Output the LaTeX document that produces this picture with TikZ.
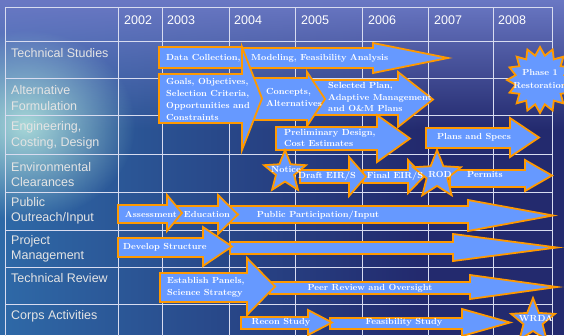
\documentclass[tikz,border=0pt]{standalone}
\usepackage{fontspec}
\newfontfamily\tabfont{Liberation Sans}
\usepackage{tikz}
\usetikzlibrary{shapes.geometric}
\usetikzlibrary{fadings}

\tikzfading[name=fadeRight, left color=transparent!0, right color=transparent!100]
\tikzfading[name=fadeDown, top color=transparent!0, bottom color=transparent!100]
\tikzfading[name=glowOut, inner color=transparent!0, outer color=transparent!100]

\definecolor{bgnavy}{HTML}{232A6E}
\definecolor{bgsea}{HTML}{2F6AA8}
\definecolor{bgsky}{HTML}{6A78C4}
\definecolor{bgglow}{HTML}{A8D8D8}
\definecolor{arrowfill}{HTML}{6699FF}
\definecolor{arroworange}{HTML}{FF9900}
\definecolor{gridline}{HTML}{D8DCF0}
\definecolor{labelgray}{HTML}{E4E4E4}

% left end, head base, body top, body bottom, head top, head bottom, tip
\newcommand{\blockarr}[7]{%
  \draw[arrowbox] (#1,#3) -- (#2,#3) -- (#2,#5) -- (#7,{(#5+#6)/2}) -- (#2,#6) -- (#2,#4) -- (#1,#4) -- cycle;}

\begin{document}
\begin{tikzpicture}[x=1pt, y=-1pt,
    arrowbox/.style={fill=arrowfill, draw=arroworange, line width=1.8pt},
    burst/.style={star, fill=arrowfill, draw=arroworange, line width=1.8pt, inner sep=0pt},
    arrowtext/.style={text=white, font=\bfseries\fontsize{8.8}{11.7}\selectfont, inner sep=0pt, align=left},
    rowlabel/.style={anchor=west, text=labelgray, font=\tabfont\fontsize{12.5}{15.5}\selectfont, inner sep=0pt, align=left},
    yearlabel/.style={anchor=west, text=white, font=\tabfont\fontsize{12.5}{15}\selectfont, inner sep=0pt}]
  \useasboundingbox (0,0) rectangle (564,335);
  \clip (0,0) rectangle (564,335);
  % background
  \fill[bgnavy] (0,0) rectangle (564,335);
  \fill[bgsea, path fading=fadeRight] (0,0) rectangle (420,335);
  \fill[bgsky, path fading=fadeDown] (0,0) rectangle (564,130);
  \fill[bgglow, path fading=glowOut] (25,125) ellipse (110 and 95);
  % table
  \draw[gridline, line width=0.8pt] (5,7) rectangle (552,345);
  \foreach \y in {41,78,115,154,192,230,267,304}
    \draw[gridline, line width=0.8pt] (5,\y) -- (552,\y);
  \foreach \x in {118,162,229,295,362,428,493}
    \draw[gridline, line width=0.8pt] (\x,7) -- (\x,345);
  \node[yearlabel] (y2002) at (124,20) {2002};
  \node[yearlabel] (y2003) at (167,20) {2003};
  \node[yearlabel] (y2004) at (234,20) {2004};
  \node[yearlabel] (y2005) at (301,20) {2005};
  \node[yearlabel] (y2006) at (368,20) {2006};
  \node[yearlabel] (y2007) at (434,20) {2007};
  \node[yearlabel] (y2008) at (498,20) {2008};
  \node[rowlabel] (techstud) at (11,53) {Technical Studies};
  \node[rowlabel] (altform) at (11,98) {Alternative\\Formulation};
  \node[rowlabel] (engin) at (11,135.5) {Engineering,\\Costing, Design};
  \node[rowlabel] (envclear) at (11,174.5) {Environmental\\Clearances};
  \node[rowlabel] (outreach) at (11,211) {Public\\Outreach/Input};
  \node[rowlabel] (projman) at (11,249) {Project\\Management};
  \node[rowlabel] (techrev) at (11,278) {Technical Review};
  \node[rowlabel] (corps) at (11,316) {Corps Activities};
  % arrows
  \blockarr{242}{373}{48}{68}{43}{73}{448}
  \blockarr{313}{398}{80}{115}{72}{127}{433}
  \blockarr{245}{307}{78}{120}{72}{126}{325}
  \blockarr{159}{242}{74}{123}{47}{150}{262}
  \draw[arrowbox] (159,47) rectangle (242,68);
  \blockarr{276}{377}{127}{150}{115}{162}{410}
  \blockarr{426}{510}{128}{148}{118}{157}{539}
  \node[burst, star points=16, star point ratio=1.33, minimum size=66] (phase) at (540,80) {};
  \blockarr{450}{525}{170}{187}{160}{191}{552}
  \blockarr{363}{408}{170}{183}{160}{193}{424}
  \blockarr{300}{349}{170}{183}{157}{196}{366}
  \node[burst, star points=5, star point ratio=2.3, minimum size=44] (notice) at (285,172) {};
  \node[burst, star points=5, star point ratio=2.3, minimum size=50] (rod) at (437,175) {};
  \blockarr{230}{468}{206}{223}{200}{231}{553}
  \blockarr{172}{218}{206}{223}{195}{234}{238}
  \blockarr{118}{167}{205}{223}{195}{231}{182}
  \blockarr{230}{453}{242}{254}{234}{261}{557}
  \blockarr{118}{203}{238}{257}{227}{266}{232}
  \blockarr{270}{470}{282}{294}{275}{299}{557}
  \blockarr{160}{247}{273}{302}{258}{315}{275}
  \blockarr{330}{462}{318}{329}{309}{336}{510}
  \blockarr{241}{308}{317}{329}{310}{335}{332}
  \node[burst, star points=5, star point ratio=2.3, minimum size=46] (wrda) at (533,321) {};
  % texts
  \node[arrowtext, anchor=west] (datacol) at (166,58) {Data Collection,};
  \node[arrowtext, anchor=west] (model) at (251,58) {Modeling, Feasibility Analysis};
  \node[arrowtext, anchor=west] (goals) at (166,99.5) {Goals, Objectives,\\Selection Criteria,\\Opportunities and\\Constraints};
  \node[arrowtext, anchor=west] (concepts) at (266,97.5) {Concepts,\\Alternatives};
  \node[arrowtext, anchor=west] (selplan) at (328,97) {Selected Plan,\\Adaptive Management\\and O\&M Plans};
  \node[arrowtext, anchor=west] (prelim) at (284,138) {Preliminary Design,\\Cost Estimates};
  \node[arrowtext] (plans) at (474,137) {Plans and Specs};
  \node[arrowtext, align=center, font=\bfseries\fontsize{8.8}{13}\selectfont] (phasetxt) at (540,78.5) {Phase 1\\Restoration};
  \node[arrowtext] (noticetxt) at (286,170) {Notice};
  \node[arrowtext] (draft) at (327,176) {Draft EIR/S};
  \node[arrowtext] (final) at (395,176) {Final EIR/S};
  \node[arrowtext] (rodtxt) at (440,174) {ROD};
  \node[arrowtext] (permits) at (485,175) {Permits};
  \node[arrowtext] (assess) at (151,214) {Assessment};
  \node[arrowtext] (educ) at (207,214) {Education};
  \node[arrowtext] (ppi) at (318,215) {Public Participation/Input};
  \node[arrowtext] (develop) at (165,247) {Develop Structure};
  \node[arrowtext, anchor=west] (establish) at (167,287.5) {Establish Panels,\\Science Strategy};
  \node[arrowtext] (peer) at (370,288) {Peer Review and Oversight};
  \node[arrowtext] (recon) at (281,322) {Recon Study};
  \node[arrowtext] (feas) at (404,322) {Feasibility Study};
  \node[arrowtext] (wrdatxt) at (536,318) {WRDA};
\end{tikzpicture}
\end{document}
